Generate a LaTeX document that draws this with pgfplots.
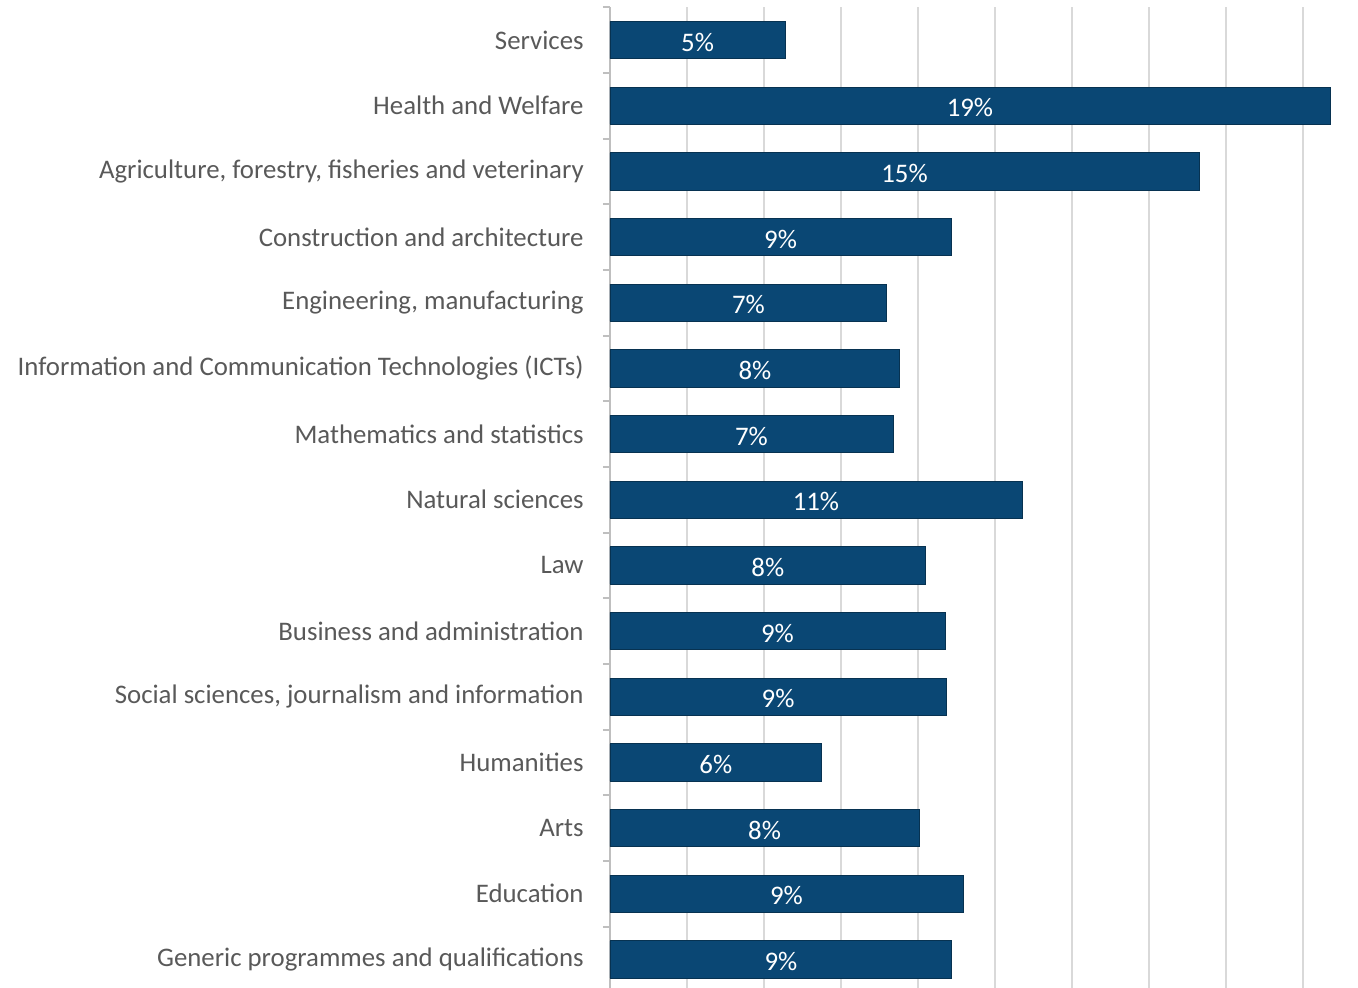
\documentclass[border=0pt]{standalone}
\usepackage{pgfplots}
\usepackage{pgfplotstable}
\pgfplotsset{compat=1.18}
\usepackage{fontspec}
\setmainfont{Carlito}
\definecolor{barblue}{RGB}{10,71,116}
\definecolor{labgray}{RGB}{89,89,89}
\definecolor{gridgray}{RGB}{217,217,217}
\definecolor{axgray}{RGB}{191,191,191}

% y = position from top, v = share, r = printed label
\pgfplotstableread{
y v r
0 4.55 5
1 18.7 19
2 15.3 15
3 8.86 9
4 7.19 7
5 7.53 8
6 7.35 7
7 10.7 11
8 8.2 8
9 8.7 9
10 8.73 9
11 5.5 6
12 8.03 8
13 9.17 9
14 8.88 9
}\fields

\begin{document}
\begin{tikzpicture}
\begin{axis}[name=ax, scale only axis, width=374pt, height=492.5pt,
    xmin=0, xmax=19.43, ymin=-0.5, ymax=14.5, y dir=reverse,
    axis lines*=left,
    x axis line style={draw=none},
    y axis line style={draw=axgray, line width=1pt, -},
    xtick={0,2,...,18}, xticklabels={},
    xmajorgrids, grid style={gridgray, line width=1pt},
    ytick={0,...,14},
    minor ytick={-0.5,0.5,...,14.5},
    major tick length=0pt, minor tick length=3.5pt, tick align=outside,
    minor tick style={draw=axgray, line width=1pt},
    yticklabels={Services, Health and Welfare, {Agriculture, forestry, fisheries and veterinary},
      Construction and architecture, {Engineering, manufacturing},
      Information and Communication Technologies (ICTs), Mathematics and statistics,
      Natural sciences, Law, Business and administration,
      {Social sciences, journalism and information}, Humanities, Arts, Education,
      Generic programmes and qualifications},
    yticklabel style={font=\fontsize{13.4}{15}\selectfont, text=labgray, anchor=east, inner sep=0pt, xshift=-13pt},
    /pgf/number format/assume math mode=true,
    clip=false]
  \addplot[xbar, bar shift=0pt, bar width=0.565, fill=barblue, draw=barblue!70!black, line width=0.4pt]
    table[x=v, y=y] {\fields};
  \addplot[only marks, mark=*, mark size=0pt, mark options={draw=none, fill=none},
    nodes near coords={\pgfmathprintnumber[fixed,precision=0,assume math mode=true]{\pgfplotspointmeta}\%},
    point meta=explicit,
    every node near coord/.style={anchor=center, yshift=-1pt, text=white, font=\fontsize{13.4}{15}\selectfont}]
    table[x expr=\thisrow{v}/2, y=y, meta=r] {\fields};
\end{axis}
\pgfresetboundingbox
\path[use as bounding box] ([xshift=-305pt, yshift=2.5pt]ax.south west) rectangle ([yshift=3.6pt]ax.north east);
\end{tikzpicture}
\end{document}
